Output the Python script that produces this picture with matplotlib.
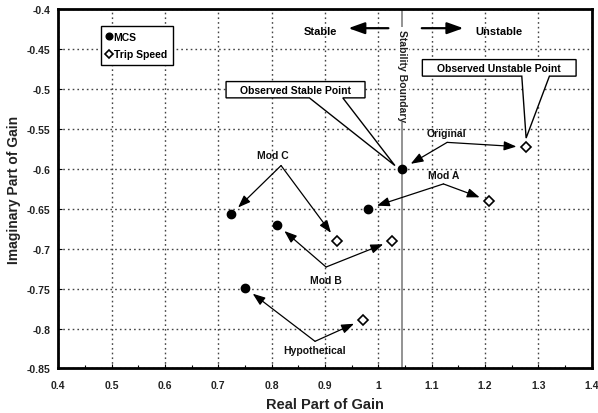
import matplotlib
matplotlib.use("Agg")
import matplotlib.pyplot as plt
from matplotlib.patches import Polygon
from matplotlib.ticker import MultipleLocator

plt.rcParams['font.family'] = ['Liberation Sans', 'DejaVu Sans']

# ---- data ----
cases = ["Original", "Mod A", "Mod B", "Mod C", "Hypothetical"]
mcs_real = [1.045, 0.980, 0.810, 0.724, 0.750]
mcs_imag = [-0.600, -0.650, -0.670, -0.657, -0.749]
trip_real = [1.277, 1.207, 1.026, 0.922, 0.971]
trip_imag = [-0.573, -0.640, -0.690, -0.690, -0.789]
stability_boundary = 1.045
x_ticks = [0.4, 0.5, 0.6, 0.7, 0.8, 0.9, 1.0, 1.1, 1.2, 1.3, 1.4]
x_tick_labels = ["0.4", "0.5", "0.6", "0.7", "0.8", "0.9", "1", "1.1", "1.2", "1.3", "1.4"]
y_ticks = [-0.4, -0.45, -0.5, -0.55, -0.6, -0.65, -0.7, -0.75, -0.8, -0.85]
y_tick_labels = ["-0.4", "-0.45", "-0.5", "-0.55", "-0.6", "-0.65", "-0.7", "-0.75", "-0.8", "-0.85"]

fig = plt.figure(figsize=(5.98, 4.14), dpi=100)
ax = fig.add_axes([0.0975, 0.1075, 0.892, 0.8685])
ax.set_xlim(0.4, 1.4)
ax.set_ylim(-0.85, -0.4)
ax.set_xticks(x_ticks)
ax.set_xticklabels(x_tick_labels)
ax.set_yticks(y_ticks)
ax.set_yticklabels(y_tick_labels)
ax.xaxis.set_minor_locator(MultipleLocator(0.05))
ax.tick_params(which='both', direction='in', labelsize=7.5, length=3, width=0.8)
ax.tick_params(axis='x', pad=8.5)
ax.tick_params(axis='y', pad=5.5)
ax.tick_params(which='minor', length=2)
for lab in ax.get_xticklabels() + ax.get_yticklabels():
    lab.set_fontweight('bold')
    lab.set_color('#222222')
for s in ax.spines.values():
    s.set_linewidth(2)
ax.grid(True, which='major', color='#444444', linestyle=(0, (1.2, 2.2)), linewidth=1.0)
ax.set_axisbelow(True)

ax.set_xlabel("Real Part of Gain", fontsize=10.5, fontweight='bold', labelpad=4.5, color='#222222')
ax.set_ylabel("Imaginary Part of Gain", fontsize=10, fontweight='bold', labelpad=4, color='#222222')

# stability boundary
ax.axvline(stability_boundary, color='#808080', lw=1.2, zorder=2)
ax.text(stability_boundary, -0.4823, "Stability Boundary", rotation=270, ha='center', va='center',
        fontsize=7.5, fontweight='bold', color='#222222',
        bbox=dict(facecolor='white', edgecolor='none', pad=1.0), zorder=3)

# points
ax.plot(mcs_real, mcs_imag, 'o', color='black', markersize=6, zorder=6, label='MCS')
ax.plot(trip_real, trip_imag, 'D', markerfacecolor='white', markeredgecolor='black',
        markersize=5.5, markeredgewidth=1.2, zorder=6, label='Trip Speed')

leg = ax.legend(loc='upper left', bbox_to_anchor=(0.0795, 0.952), borderaxespad=0,
                fancybox=False, edgecolor='black', framealpha=1, handlelength=0.4,
                handletextpad=0.3, borderpad=0.55, labelspacing=0.7, markerscale=0.8,
                prop=dict(size=7.5, weight='bold'))
leg.get_frame().set_linewidth(1.0)

# Stable / Unstable
big_head = dict(arrowstyle='-|>,head_length=0.7,head_width=0.25', color='black', lw=1.6,
                mutation_scale=14, shrinkA=0, shrinkB=0)
ax.text(0.892, -0.4279, "Stable", ha='center', va='center', fontsize=8, fontweight='bold')
ax.text(1.2265, -0.4279, "Unstable", ha='center', va='center', fontsize=8, fontweight='bold')
ax.annotate("", xy=(0.9438, -0.4241), xytext=(1.0188, -0.4241), arrowprops=big_head)
ax.annotate("", xy=(1.1594, -0.4241), xytext=(1.0814, -0.4241), arrowprops=big_head)

# case labels with two arrows each
label_pos = {"Original": (1.128, -0.555), "Mod A": (1.123, -0.6075),
             "Mod B": (0.9025, -0.7396), "Mod C": (0.803, -0.5834),
             "Hypothetical": (0.88, -0.827)}
vertex_pos = {"Original": (1.129, -0.567), "Mod A": (1.122, -0.619),
              "Mod B": (0.902, -0.723), "Mod C": (0.8176, -0.596),
              "Hypothetical": (0.8813, -0.816)}
small_head = dict(arrowstyle='-|>,head_length=0.75,head_width=0.28', color='black', lw=0.9,
                  mutation_scale=10, shrinkA=0, shrinkB=7)
for i, c in enumerate(cases):
    lx, ly = label_pos[c]
    ax.text(lx, ly, c, ha='center', va='center', fontsize=7.5, fontweight='bold', color='#111111')
    vx, vy = vertex_pos[c]
    for px, py in [(mcs_real[i], mcs_imag[i]), (trip_real[i], trip_imag[i])]:
        ax.annotate("", xy=(px, py), xytext=(vx, vy), arrowprops=small_head, zorder=5)


def callout(x0, x1, ytop, ybot, b1, b2, tip, text):
    pts = [(x0, ytop), (x1, ytop), (x1, ybot), (b2, ybot), tip, (b1, ybot), (x0, ybot)]
    poly = Polygon(pts, closed=True, facecolor='white', edgecolor='black', lw=1.0, zorder=4)
    ax.add_patch(poly)
    ax.text((x0 + x1) / 2, (ytop + ybot) / 2, text, ha='center', va='center',
            fontsize=7.5, fontweight='bold', zorder=5)


callout(0.7145, 0.975, -0.4909, -0.5113, 0.8707, 0.9333, (1.031, -0.596), "Observed Stable Point")
callout(1.0825, 1.3707, -0.4634, -0.4841, 1.2689, 1.3207, (1.277, -0.5616), "Observed Unstable Point")

fig.savefig("out.png", dpi=100)
